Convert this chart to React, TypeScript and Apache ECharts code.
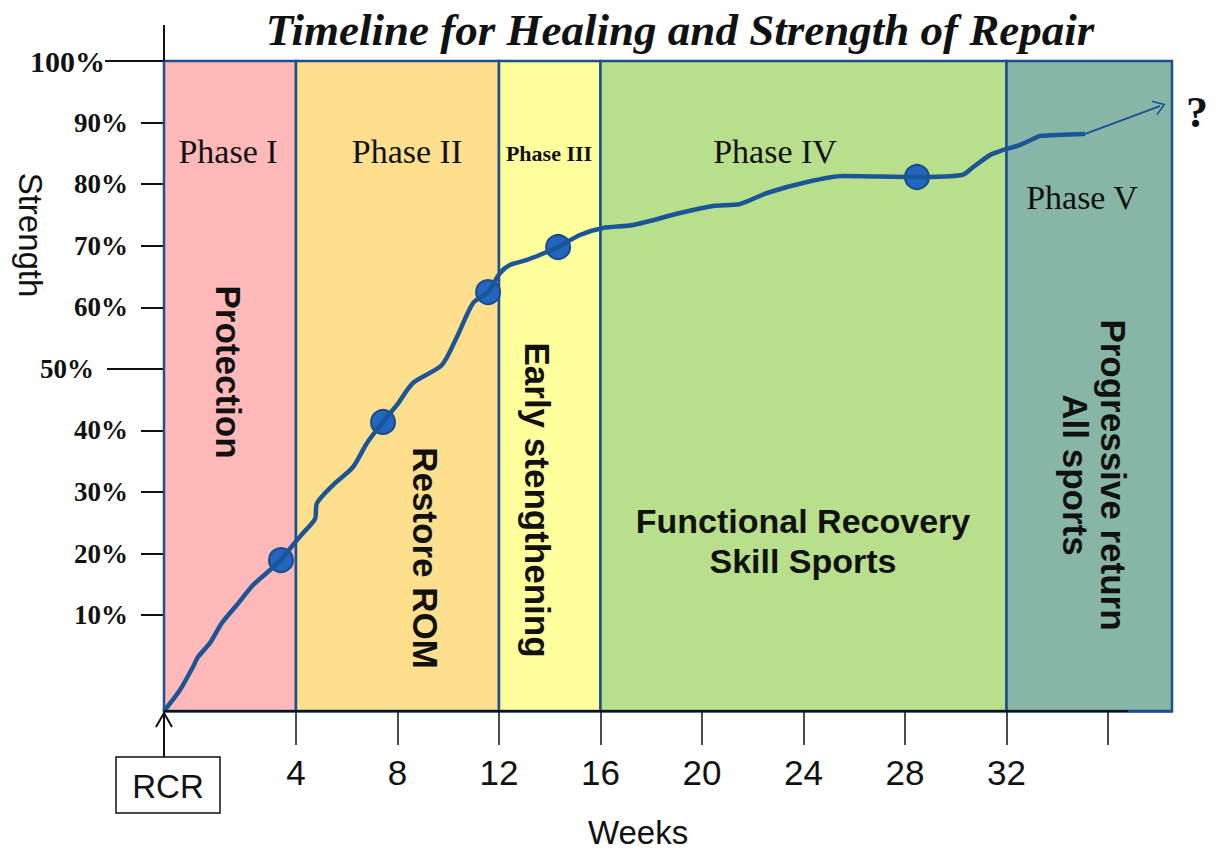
import React, { useEffect, useRef } from "react";
import * as echarts from "echarts";

// ---- data ----
const WEEK_TICKS = [4, 8, 12, 16, 20, 24, 28, 32, 36];
const WEEK_LABELS = [4, 8, 12, 16, 20, 24, 28, 32];
const STRENGTH_TICKS = [10, 20, 30, 40, 60, 70, 80, 90];
const STRENGTH_TOP_TICK = [100];
const STRENGTH_MID_TICK = [50];

const PHASE_BOUNDS = [4, 12, 16, 32];
const PHASE_COLORS = ["#FFB9B9", "#FDDF8E", "#FFFF9C", "#B8DF8B", "#87B6A6"];

const X_MIN = -1.2;
const X_MAX = 38.52;
const Y_MIN = -5.57;
const Y_MAX = 100;

const CURVE_WEEKS = [-1.2, -0.57, -0.06, 0.14, 0.61, 1.08, 1.67, 2.31, 2.98, 3.41, 3.88, 4.28, 4.75, 4.83, 5.46, 6.25, 6.8, 7.43, 7.98, 8.61, 9.75, 10.34, 10.98, 11.57, 12.04, 12.43, 13.1, 13.89, 14.33, 15.19, 16.1, 17.28, 19.13, 20.43, 21.5, 22.56, 24.14, 25.56, 28.47, 30.25, 30.64, 31.35, 31.74, 32.53, 33.04, 33.32, 35.09];
const CURVE_STRENGTH = [-5.57, -2.16, 1.58, 3.2, 5.47, 8.72, 11.65, 14.89, 17.33, 18.95, 21.39, 23.34, 25.61, 28.21, 31.13, 34.06, 37.96, 41.37, 44.13, 47.7, 50.63, 55.17, 60.7, 62.48, 65.57, 66.87, 67.68, 68.98, 69.79, 71.74, 72.88, 73.36, 75.31, 76.45, 76.77, 78.56, 80.35, 81.32, 81.16, 81.48, 82.62, 84.73, 85.38, 86.36, 87.33, 87.82, 88.14];

const DOT_WEEKS = [3.41, 7.43, 11.57, 14.33, 28.47];
const DOT_STRENGTH = [18.95, 41.37, 62.48, 69.79, 81.16];

const TREND_WEEKS = [35.09, 38.05];
const TREND_STRENGTH = [88.14, 92.69];

const BLUE_LINE = "#1D4F8C";
const CURVE_COLOR = "#1B5598";

const SANS = "'Liberation Sans', Arial, sans-serif";
const SERIF = "'Liberation Serif', 'Times New Roman', serif";

export default function App() {
  const ref = useRef<HTMLDivElement>(null);

  useEffect(() => {
    if (!ref.current) return;
    const chart = echarts.init(ref.current, null, { renderer: "svg" });

    const edges = [X_MIN, ...PHASE_BOUNDS, X_MAX];
    const areas = PHASE_COLORS.map((c, i) => [
      { xAxis: i === 0 ? "min" : edges[i], itemStyle: { color: c } },
      { xAxis: i === PHASE_COLORS.length - 1 ? "max" : edges[i + 1] },
    ]);

    const yBase = {
      type: "value",
      min: Y_MIN,
      max: Y_MAX,
      position: "left",
      axisLine: { show: false, onZero: false },
      splitLine: { show: false },
    };

    const labelStyle = {
      fontFamily: SERIF,
      fontWeight: "bold",
      fontSize: 27,
      color: "#111",
      formatter: (v: number) => `${v}%`,
    };

    const curve = CURVE_WEEKS.map((w, i) => [w, CURVE_STRENGTH[i]]);
    const dots = DOT_WEEKS.map((w, i) => [w, DOT_STRENGTH[i]]);
    const trend = TREND_WEEKS.map((w, i) => [w, TREND_STRENGTH[i]]);

    const option: any = {
      animation: false,
      grid: { left: 164, right: 47, top: 61, bottom: 141, containLabel: false },
      xAxis: {
        type: "value",
        min: X_MIN,
        max: X_MAX,
        z: 10,
        axisLine: { show: true, onZero: false, lineStyle: { color: BLUE_LINE, width: 2.5 } },
        splitLine: { show: false },
        axisTick: {
          show: true,
          inside: false,
          length: 34,
          customValues: WEEK_TICKS,
          lineStyle: { color: "#111", width: 1.5 },
        },
        axisLabel: {
          customValues: WEEK_LABELS,
          margin: 44,
          fontFamily: SANS,
          fontSize: 35,
          color: "#111",
        },
      },
      yAxis: [
        {
          ...yBase,
          axisTick: { show: true, length: 23, customValues: STRENGTH_TICKS, lineStyle: { color: "#111", width: 2 } },
          axisLabel: { ...labelStyle, customValues: STRENGTH_TICKS, margin: 36 },
        },
        {
          ...yBase,
          axisTick: { show: true, length: 59, customValues: STRENGTH_TOP_TICK, lineStyle: { color: "#111", width: 2 } },
          axisLabel: { ...labelStyle, fontSize: 30, customValues: STRENGTH_TOP_TICK, margin: 59 },
        },
        {
          ...yBase,
          axisTick: { show: true, length: 57, customValues: STRENGTH_MID_TICK, lineStyle: { color: "#111", width: 2 } },
          axisLabel: { ...labelStyle, customValues: STRENGTH_MID_TICK, margin: 70 },
        },
      ],
      series: [
        {
          type: "line",
          data: [],
          z: 1,
          markArea: {
            silent: true,
            itemStyle: { borderColor: BLUE_LINE, borderWidth: 2.5 },
            data: areas,
          },
        },
        {
          type: "scatter",
          data: dots,
          z: 3,
          symbolSize: 24,
          itemStyle: { color: "#2267BD", borderColor: "#1A4C8C", borderWidth: 2, opacity: 1 },
        },
        {
          type: "line",
          data: curve,
          z: 4,
          smooth: 0.25,
          showSymbol: false,
          lineStyle: { color: CURVE_COLOR, width: 4.5 },
        },
        {
          type: "line",
          data: trend,
          z: 4,
          showSymbol: false,
          lineStyle: { color: CURVE_COLOR, width: 1.5 },
          markLine: {
            silent: true,
            symbol: ["none", "path://M0,12 L6,0 L12,12 L10.6,12 L6,3 L1.4,12 Z"],
            symbolSize: [16, 12],
            label: { show: false },
            lineStyle: { color: CURVE_COLOR, width: 1.5, type: "solid" },
            data: [[{ coord: trend[0] }, { coord: trend[1] }]],
          },
        },
      ],
      graphic: [
        {
          type: "text",
          x: 680,
          y: 30,
          z: 100,
          style: {
            text: "Timeline for Healing and Strength of Repair",
            font: `italic bold 45px ${SERIF}`,
            fill: "#111",
            align: "center",
            verticalAlign: "middle",
          },
        },
        {
          type: "text",
          x: 1197,
          y: 112,
          z: 100,
          style: { text: "?", font: `bold 44px ${SERIF}`, fill: "#111", align: "center", verticalAlign: "middle" },
        },
        // phase names
        ...[
          ["Phase I", 228, 151, 34, "normal"],
          ["Phase II", 407, 151, 34, "normal"],
          ["Phase III", 549, 153, 22, "bold"],
          ["Phase IV", 775, 151, 34, "normal"],
          ["Phase V", 1082, 197, 34, "normal"],
        ].map(([t, x, y, s, w]) => ({
          type: "text",
          x,
          y,
          z: 100,
          style: {
            text: t,
            font: `${w} ${s}px ${SERIF}`,
            fill: "#111",
            align: "center",
            verticalAlign: "middle",
          },
        })),
        // rotated activity labels
        ...[
          ["Protection", 228, 372],
          ["Restore ROM", 425, 558],
          ["Early stengthening", 537, 500],
          ["Progressive return\nAll sports", 1094, 475],
        ].map(([t, x, y]) => ({
          type: "text",
          x,
          y,
          z: 100,
          rotation: -Math.PI / 2,
          style: {
            text: t,
            font: `bold 35px ${SANS}`,
            fill: "#111",
            align: "center",
            verticalAlign: "middle",
            lineHeight: 38,
          },
        })),
        {
          type: "text",
          x: 803,
          y: 541,
          z: 100,
          style: {
            text: "Functional Recovery\nSkill Sports",
            font: `bold 34px ${SANS}`,
            fill: "#111",
            align: "center",
            verticalAlign: "middle",
            lineHeight: 40,
          },
        },
        {
          type: "text",
          x: 30,
          y: 235,
          z: 100,
          rotation: -Math.PI / 2,
          style: { text: "Strength", font: `33px ${SANS}`, fill: "#111", align: "center", verticalAlign: "middle" },
        },
        {
          type: "text",
          x: 638,
          y: 832,
          z: 100,
          style: { text: "Weeks", font: `33px ${SANS}`, fill: "#111", align: "center", verticalAlign: "middle" },
        },
        // axis extension above plot and black base line
        { type: "line", z: 100, shape: { x1: 164, y1: 25, x2: 164, y2: 61 }, style: { stroke: "#111", lineWidth: 2 } },
        { type: "line", z: 100, shape: { x1: 164, y1: 711, x2: 1128, y2: 711 }, style: { stroke: "#111", lineWidth: 2 } },
        // RCR box with arrow
        { type: "line", z: 100, shape: { x1: 164, y1: 757, x2: 164, y2: 713 }, style: { stroke: "#111", lineWidth: 2 } },
        {
          type: "polyline",
          z: 100,
          shape: { points: [[156, 727], [164, 713], [172, 727]] },
          style: { stroke: "#111", lineWidth: 2, fill: "none" },
        },
        {
          type: "rect",
          z: 100,
          shape: { x: 116, y: 757, width: 104, height: 56 },
          style: { stroke: "#111", lineWidth: 1.5, fill: "#fff" },
        },
        {
          type: "text",
          x: 168,
          y: 786,
          z: 101,
          style: { text: "RCR", font: `33px ${SANS}`, fill: "#111", align: "center", verticalAlign: "middle" },
        },
      ],
    };

    chart.setOption(option);
    return () => chart.dispose();
  }, []);

  return <div ref={ref} style={{ width: 1219, height: 852, margin: -8 }} />;
}
